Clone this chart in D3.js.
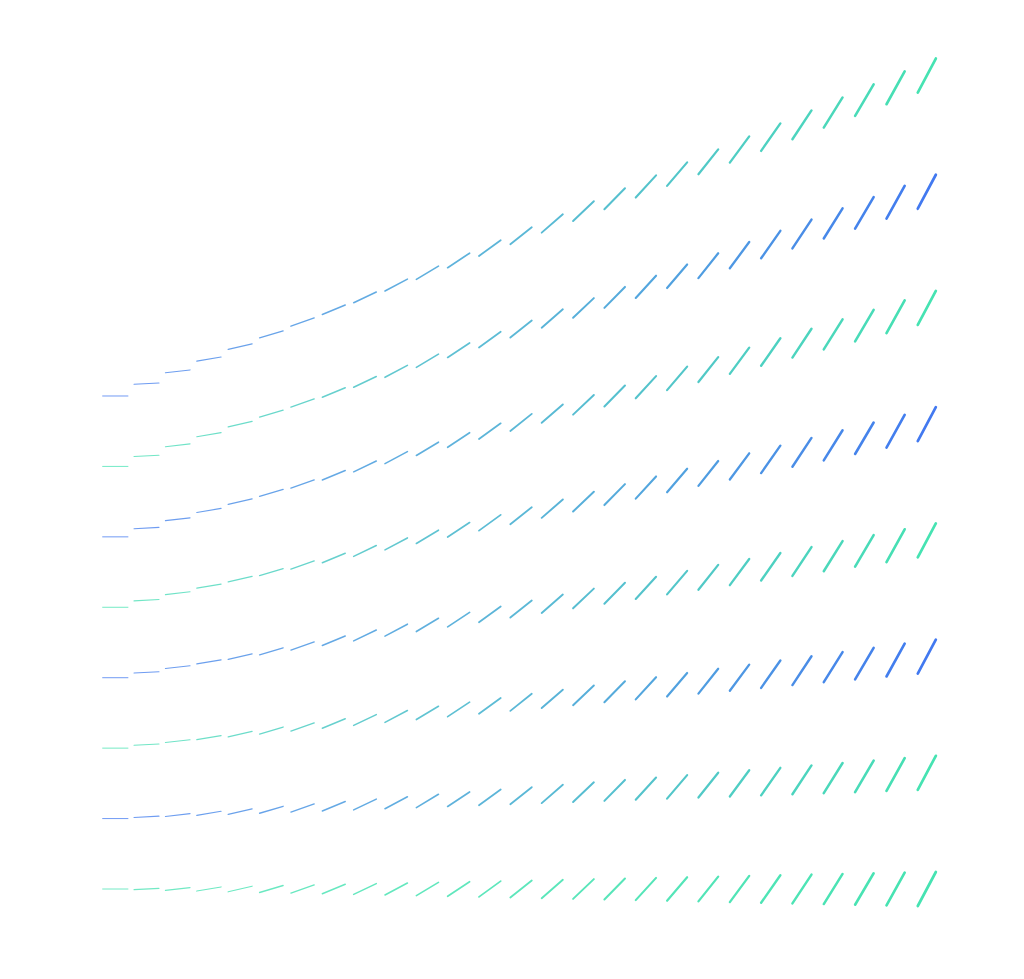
<!DOCTYPE html>
<html>
<head>
<meta charset="utf-8">
<script src="https://cdn.jsdelivr.net/npm/d3@7"></script>
<style>
  html, body { margin: 0; padding: 0; background: #fff; }
  #chart { width: 1024px; height: 979px; }
</style>
</head>
<body>
<div id="chart"></div>
<script>
// column positions (x values)
const columns = [0, 1, 2, 3, 4, 5, 6, 7, 8, 9, 10, 11, 12, 13, 14, 15, 16, 17, 18, 19, 20, 21, 22, 23, 24, 25, 26];

// segment direction (degrees) and magnitude per column
const direction = [0, 3, 6.5, 9.5, 13, 16.5, 19.5, 22.5, 25.5, 28, 31, 33.5, 36, 38.5, 41, 43.5, 45.5, 47.5, 49.5, 51.5, 53.5, 55, 56.5, 58, 59.5, 61, 62];
const magnitude = [26.3, 26.1, 25.9, 25.8, 25.8, 25.9, 26.1, 26.3, 26.6, 27.0, 27.4, 28.0, 28.6, 29.2, 29.9, 30.6, 31.4, 32.2, 33.1, 34.0, 34.9, 35.9, 37.0, 38.0, 39.1, 40.1, 41.2];

// one row of values per series, top to bottom
const row1 = [7, 7.175, 7.35, 7.525, 7.7, 7.875, 8.05, 8.225, 8.4, 8.575, 8.75, 8.925, 9.1, 9.275, 9.45, 9.625, 9.8, 9.975, 10.15, 10.325, 10.5, 10.675, 10.85, 11.025, 11.2, 11.375, 11.55];
const row2 = [6, 6.15, 6.3, 6.45, 6.6, 6.75, 6.9, 7.05, 7.2, 7.35, 7.5, 7.65, 7.8, 7.95, 8.1, 8.25, 8.4, 8.55, 8.7, 8.85, 9, 9.15, 9.3, 9.45, 9.6, 9.75, 9.9];
const row3 = [5, 5.125, 5.25, 5.375, 5.5, 5.625, 5.75, 5.875, 6, 6.125, 6.25, 6.375, 6.5, 6.625, 6.75, 6.875, 7, 7.125, 7.25, 7.375, 7.5, 7.625, 7.75, 7.875, 8, 8.125, 8.25];
const row4 = [4, 4.1, 4.2, 4.3, 4.4, 4.5, 4.6, 4.7, 4.8, 4.9, 5, 5.1, 5.2, 5.3, 5.4, 5.5, 5.6, 5.7, 5.8, 5.9, 6, 6.1, 6.2, 6.3, 6.4, 6.5, 6.6];
const row5 = [3, 3.075, 3.15, 3.225, 3.3, 3.375, 3.45, 3.525, 3.6, 3.675, 3.75, 3.825, 3.9, 3.975, 4.05, 4.125, 4.2, 4.275, 4.35, 4.425, 4.5, 4.575, 4.65, 4.725, 4.8, 4.875, 4.95];
const row6 = [2, 2.05, 2.1, 2.15, 2.2, 2.25, 2.3, 2.35, 2.4, 2.45, 2.5, 2.55, 2.6, 2.65, 2.7, 2.75, 2.8, 2.85, 2.9, 2.95, 3, 3.05, 3.1, 3.15, 3.2, 3.25, 3.3];
const row7 = [1, 1.025, 1.05, 1.075, 1.1, 1.125, 1.15, 1.175, 1.2, 1.225, 1.25, 1.275, 1.3, 1.325, 1.35, 1.375, 1.4, 1.425, 1.45, 1.475, 1.5, 1.525, 1.55, 1.575, 1.6, 1.625, 1.65];
const row8 = [0, 0, 0, 0, 0, 0, 0, 0, 0, 0, 0, 0, 0, 0, 0, 0, 0, 0, 0, 0, 0, 0, 0, 0, 0, 0, 0];

const rows = [row1, row2, row3, row4, row5, row6, row7, row8];

const blue = '#4279f0';
const green = '#46e3b2';
// start / end colour of each row
const rowColors = [
  [blue, green], [green, blue], [blue, green], [green, blue],
  [blue, green], [green, blue], [blue, green], [green, green]
];

const width = 1024, height = 979;

const svg = d3.select('#chart')
  .append('svg')
  .attr('width', width)
  .attr('height', height);

const x = d3.scaleLinear()
  .domain([0, 26])
  .range([115.3, 926.8]);

const y = d3.scaleLinear()
  .domain([0, 12])
  .range([889, 889 - 12 * 70.43]);

const len = d3.scaleLinear().domain([0, 50]).range([0, 50]);
const strokeW = d3.scaleLinear().domain([0, 26]).range([1, 2.7]);

const points = [];
rows.forEach((vals, r) => {
  const col = d3.interpolateRgb(rowColors[r][0], rowColors[r][1]);
  vals.forEach((v, j) => {
    points.push({
      col: columns[j],
      value: v,
      angle: direction[j],
      size: magnitude[j],
      color: col(j / (columns.length - 1))
    });
  });
});

svg.append('g')
  .selectAll('line')
  .data(points)
  .join('line')
  .attr('transform', d => `translate(${x(d.col)},${y(d.value)}) rotate(${-d.angle})`)
  .attr('x1', d => -(len(d.size) - strokeW(d.col)) / 2)
  .attr('x2', d => (len(d.size) - strokeW(d.col)) / 2)
  .attr('y1', 0)
  .attr('y2', 0)
  .attr('stroke', d => d.color)
  .attr('stroke-width', d => strokeW(d.col))
  .attr('stroke-linecap', 'round')
  .attr('opacity', d => 0.75 + 0.25 * d.col / 26);
</script>
</body>
</html>
